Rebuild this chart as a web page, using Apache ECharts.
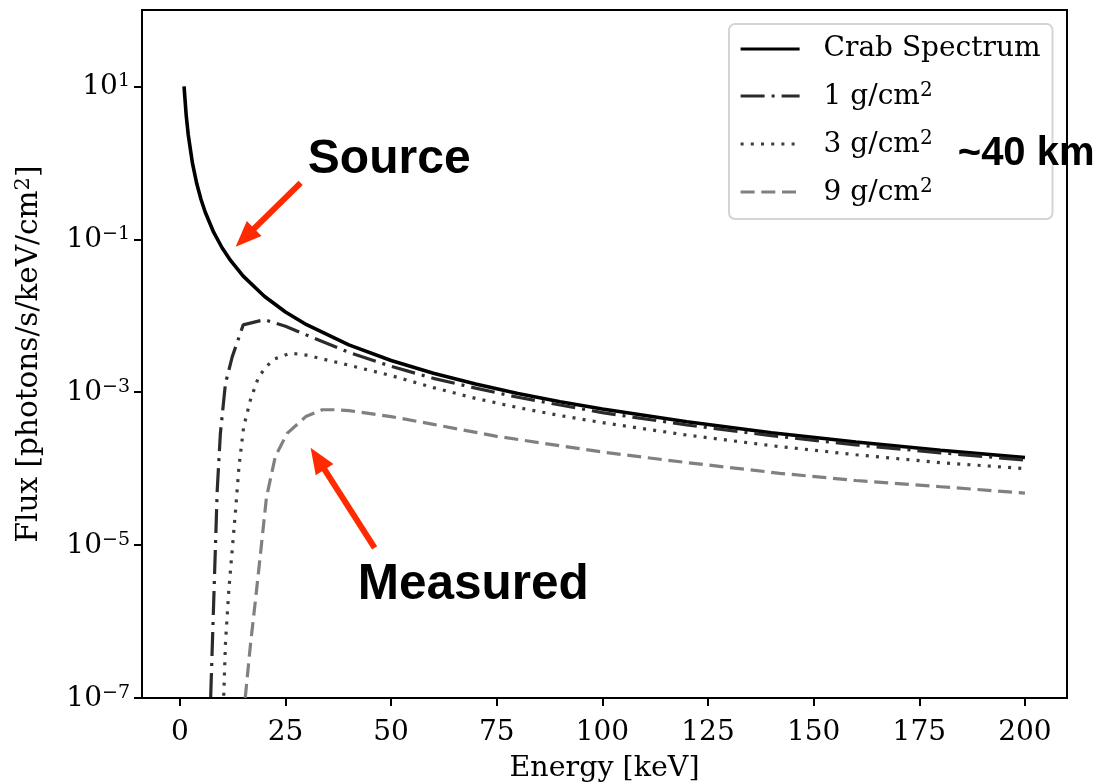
<!DOCTYPE html>
<html>
<head>
<meta charset="utf-8">
<title>Crab spectrum through the atmosphere</title>
<script src="https://cdn.jsdelivr.net/npm/echarts@6.0.0/dist/echarts.min.js"></script>
<style>
  html, body { margin: 0; padding: 0; background: #fff; }
  #chart { width: 1100px; height: 784px; }
</style>
</head>
<body>
<div id="chart"></div>
<script>
// Crab spectrum (source), photons/s/keV/cm2
const crabEnergy = [1, 1.5, 2, 3, 4, 5, 6, 8, 10, 12, 15, 20, 25, 30, 40, 50, 60, 70, 80, 90, 100, 120, 140, 160, 180, 200]
const crabFlux = [10, 4.25, 2.32, 0.985, 0.537, 0.335, 0.228, 0.124, 0.0776, 0.0529, 0.033, 0.018, 0.0112, 0.00764, 0.00416, 0.0026, 0.00177, 0.00128, 0.000964, 0.000752, 0.000602, 0.00041, 0.000295, 0.000223, 0.000174, 0.00014]

// measured behind 1 g/cm2
const g1Energy = [7, 8, 8.85, 9.6, 10.8, 12.4, 15, 20, 25, 30, 40, 50, 60, 70, 80, 90, 100, 120, 140, 160, 180, 200]
const g1Flux = [3e-8, 1.7e-6, 5.2e-5, 2.9e-4, 1.3e-3, 2.9e-3, 7.6e-3, 8.9e-3, 7.3e-3, 5.6e-3, 3.33e-3, 2.18e-3, 1.52e-3, 1.13e-3, 8.6e-4, 6.8e-4, 5.4e-4, 3.73e-4, 2.7e-4, 2.05e-4, 1.61e-4, 1.3e-4]

// measured behind 3 g/cm2
const g3Energy = [10, 10.8, 11.6, 12.4, 13.2, 14, 15.1, 16.7, 18.7, 21.9, 26.2, 30, 38, 50, 60, 70, 80, 90, 100, 120, 140, 160, 180, 200]
const g3Flux = [2.3e-8, 5.2e-7, 2.6e-6, 8.7e-6, 2.9e-5, 1.07e-4, 3.5e-4, 7.9e-4, 1.62e-3, 2.65e-3, 3.25e-3, 3.05e-3, 2.4e-3, 1.65e-3, 1.15e-3, 8.3e-4, 6.3e-4, 4.95e-4, 4.0e-4, 2.75e-4, 2.0e-4, 1.52e-4, 1.2e-4, 1.0e-4]

// measured behind 9 g/cm2
const g9Energy = [15, 16.75, 17.9, 19.1, 20.5, 22.6, 25.4, 29.8, 33.7, 36.5, 40, 50, 60, 75, 100, 120, 142, 160, 180, 200]
const g9Flux = [5.4e-8, 5.2e-7, 1.9e-6, 7.8e-6, 4.2e-5, 1.44e-4, 2.9e-4, 4.8e-4, 5.9e-4, 5.9e-4, 5.75e-4, 4.8e-4, 3.8e-4, 2.65e-4, 1.65e-4, 1.2e-4, 8.7e-5, 7.0e-5, 5.8e-5, 4.8e-5]

const seriesNames = ['Crab Spectrum', '1 g/cm²', '3 g/cm²', '9 g/cm²']
const xTicks = [0, 25, 50, 75, 100, 125, 150, 175, 200]
const yTicks = [1e-7, 1e-5, 1e-3, 1e-1, 10]

const SERIF = "'DejaVu Serif', serif"
const BOLD = "'Liberation Sans', Arial, sans-serif"
const RED = '#ff2a00'
const FS = 28

function pairs (xs, ys) {
  return xs.map((x, i) => [x, ys[i]])
}

function supRich (size, sup) {
  return {
    t: { fontFamily: SERIF, fontSize: size, color: '#000', verticalAlign: 'bottom' },
    s: { fontFamily: SERIF, fontSize: sup, color: '#000', verticalAlign: 'bottom', padding: [0, 0, 10, 0] }
  }
}

const legendRich = supRich(FS, 20)
legendRich.t.padding = [0, 0, 0, 19]
legendRich.c = { fontFamily: SERIF, fontSize: FS, color: '#000', padding: [0, 0, 0, 19] }

const chart = echarts.init(document.getElementById('chart'))

const option = {
  animation: false,
  backgroundColor: '#fff',
  grid: {
    left: 142, right: 33, top: 10, bottom: 86,
    outerBoundsMode: 'none',
    containLabel: false,
    show: true, borderColor: '#000', borderWidth: 2, backgroundColor: 'transparent'
  },
  legend: {
    data: seriesNames,
    orient: 'vertical',
    left: 729,
    top: 24,
    padding: [11, 12, 12, 10],
    itemWidth: 59,
    itemHeight: 30,
    itemGap: 18,
    backgroundColor: '#fff',
    borderColor: '#d4d4d4',
    borderWidth: 2,
    borderRadius: 6,
    lineStyle: { width: 3.2 },
    itemStyle: { opacity: 0, borderWidth: 0 },
    textStyle: { fontFamily: SERIF, fontSize: FS, color: '#000', rich: legendRich },
    formatter: function (name) {
      if (name.indexOf('²') >= 0) return '{t|' + name.replace('²', '') + '}{s|2}'
      return '{c|' + name + '}'
    }
  },
  xAxis: {
    type: 'value',
    min: -8.95,
    max: 209.95,
    name: 'Energy [keV]',
    nameLocation: 'middle',
    nameGap: 56,
    nameTextStyle: { fontFamily: SERIF, fontSize: 28.5, color: '#000' },
    axisLine: { show: true, onZero: false, lineStyle: { color: '#000', width: 2 } },
    axisTick: { show: true, length: 8, customValues: xTicks, lineStyle: { color: '#000', width: 2 } },
    axisLabel: { customValues: xTicks, margin: 21, fontFamily: SERIF, fontSize: FS, color: '#000' },
    splitLine: { show: false }
  },
  yAxis: {
    type: 'log',
    logBase: 10,
    min: 1e-7,
    max: 100,
    interval: 2,
    name: '{t|Flux [photons/s/keV/cm}{s|2}{t|]}',
    nameLocation: 'middle',
    nameGap: 98,
    nameTextStyle: { rich: supRich(29.5, 21) },
    axisLine: { show: true, onZero: false, lineStyle: { color: '#000', width: 2 } },
    axisTick: { show: true, length: 8, customValues: yTicks, lineStyle: { color: '#000', width: 2 } },
    minorTick: { show: false },
    splitLine: { show: false },
    axisLabel: {
      customValues: yTicks,
      margin: 12,
      formatter: function (v) {
        const e = Math.round(Math.log10(v))
        return '{t|10}{s|' + (e < 0 ? '\u2212' : '') + Math.abs(e) + '}'
      },
      rich: supRich(FS, 19)
    }
  },
  series: [
    {
      name: seriesNames[0],
      type: 'line',
      data: pairs(crabEnergy, crabFlux),
      symbol: 'none',
      color: '#000',
      lineStyle: { color: '#000', width: 3.6 },
      z: 2,
      markLine: {
        silent: true,
        symbol: ['none', 'triangle'],
        label: { show: false },
        lineStyle: { color: RED, width: 6, type: 'solid' },
        itemStyle: { color: RED },
        emphasis: { disabled: true },
        data: [
          [{ coord: [28.6, 0.546], symbol: 'none' }, { coord: [15.4, 0.105], symbol: 'triangle', symbolSize: [21, 26] }],
          [{ coord: [46.1, 9.2e-6], symbol: 'none' }, { coord: [32.6, 1.355e-4], symbol: 'triangle', symbolSize: [21, 26] }]
        ]
      },
      markPoint: {
        silent: true,
        symbol: 'circle',
        symbolSize: 0,
        label: {
          show: true,
          position: 'inside',
          align: 'left',
          verticalAlign: 'middle',
          color: '#000',
          fontFamily: BOLD,
          fontWeight: 'bold',
          fontSize: 48,
          formatter: '{b}'
        },
        data: [
          { name: 'Source', coord: [30.3, 1.105] },
          { name: 'Measured', coord: [42.1, 3.0e-6], label: { fontSize: 49.5 } },
          { name: '~40 km', coord: [184.1, 1.31], label: { fontSize: 40 } }
        ]
      }
    },
    {
      name: seriesNames[1],
      type: 'line',
      data: pairs(g1Energy, g1Flux),
      symbol: 'none',
      color: '#2b2b2b',
      lineStyle: { color: '#2b2b2b', width: 3.2, type: [24, 7, 3, 7] },
      z: 3
    },
    {
      name: seriesNames[2],
      type: 'line',
      data: pairs(g3Energy, g3Flux),
      symbol: 'none',
      color: '#3d3d3d',
      lineStyle: { color: '#3d3d3d', width: 3.2, type: [3, 7.2] },
      z: 3
    },
    {
      name: seriesNames[3],
      type: 'line',
      data: pairs(g9Energy, g9Flux),
      symbol: 'none',
      color: '#808080',
      lineStyle: { color: '#808080', width: 3.2, type: [14, 6.7] },
      z: 3
    }
  ]
}

chart.setOption(option)
</script>
</body>
</html>
